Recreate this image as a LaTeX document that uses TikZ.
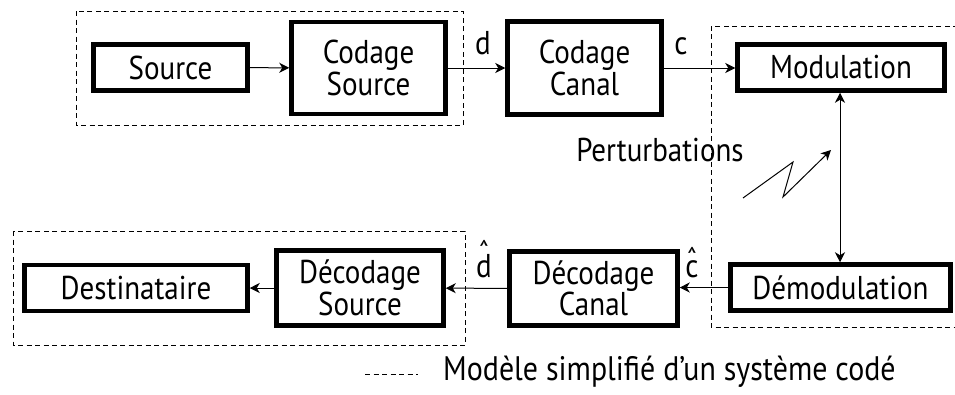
\documentclass[tikz,border=0pt]{standalone}
\usepackage{fontspec}
\setmainfont[FakeStretch=0.88]{PT Sans}
\usetikzlibrary{arrows.meta}
% letter with a circumflex set above it, raised by #1
\newcommand\hatted[2]{{\ooalign{#2\cr\hidewidth\raisebox{#1}{ˆ}\hidewidth\cr}}}
\begin{document}
\begin{tikzpicture}[x=1pt,y=-1pt,
  font=\fontsize{33}{36}\selectfont,
  blk/.style={draw, line width=4.5pt, rectangle, inner sep=0pt, align=center,
              font=\fontsize{33}{30}\selectfont},
  tip/.tip={Stealth[length=10pt,width=10pt,inset=3pt]},
  flow/.style={line width=1pt, -tip},
  grp/.style={line width=1pt, dash pattern=on 5pt off 3.5pt},
  lbl/.style={inner sep=0pt}]
\useasboundingbox (0,0) rectangle (955,394);

% group outlines
\draw[grp] (76,11) rectangle (463,125);
\draw[grp] (13,231) rectangle (465,345);
\draw[grp] (958,26) -- (711,26) -- (711,327) -- (958,327);

% emitter chain
\node[blk, minimum width=154pt, minimum height=46pt] (src) at (170.5,67.5) {Source};
\node[blk, minimum width=154pt, minimum height=92pt] (csrc) at (368.5,68) {Codage\\Source};
\node[blk, minimum width=154pt, minimum height=93pt] (ccan) at (584.5,68) {Codage\\Canal};
\node[blk, minimum width=207pt, minimum height=46pt] (mod) at (841,67.5) {Modulation};

% receiver chain
\node[blk, minimum width=220pt, minimum height=46pt] (demod) at (840.5,287.5) {Démodulation};
\node[blk, minimum width=168pt, minimum height=74pt] (dcan) at (593.5,288.5) {Décodage\\Canal};
\node[blk, minimum width=167pt, minimum height=75pt] (dsrc) at (360,288) {Décodage\\Source};
\node[blk, minimum width=223pt, minimum height=46pt] (dest) at (136,288) {Destinataire};

% connections
\draw[flow] (src) -- (csrc);
\draw[flow] (csrc) -- (ccan);
\draw[flow] (ccan.east) -- (mod.west |- ccan.east);
\draw[line width=1pt, tip-tip] (mod.south -| 840,0) -- (demod.north -| 840,0);
\draw[flow] (demod.west) -- (dcan.east |- demod.west);
\draw[flow] (dcan) -- (dsrc);
\draw[flow] (dsrc) -- (dest);

% signal labels (placed by baseline)
\node[lbl, anchor=base] (ld) at (483,54) {d};
\node[lbl, anchor=base] (lc) at (681,54) {c};
\node[lbl, anchor=base] (ldh) at (484,277) {\hatted{13pt}{d}};
\node[lbl, anchor=base] (lch) at (692,277) {\hatted{6pt}{c}};

% channel disturbance
\node[lbl] (pert) at (660,150) {Perturbations};
\coordinate (z0) at (743,198);
\coordinate (z1) at (793,162);
\coordinate (z2) at (783,197);
\coordinate (z3) at (831,150);
\draw[line width=1pt, -tip] (z0) -- (z1) -- (z2) -- (z3);

% legend
\coordinate (lg0) at (365,374);
\coordinate (lg1) at (418,374);
\draw[grp] (lg0) -- (lg1);
\node[lbl, anchor=west, font=\fontsize{34}{36}\selectfont] (legend) at (443,372) {Modèle simplifié d'un système codé};
\end{tikzpicture}
\end{document}
